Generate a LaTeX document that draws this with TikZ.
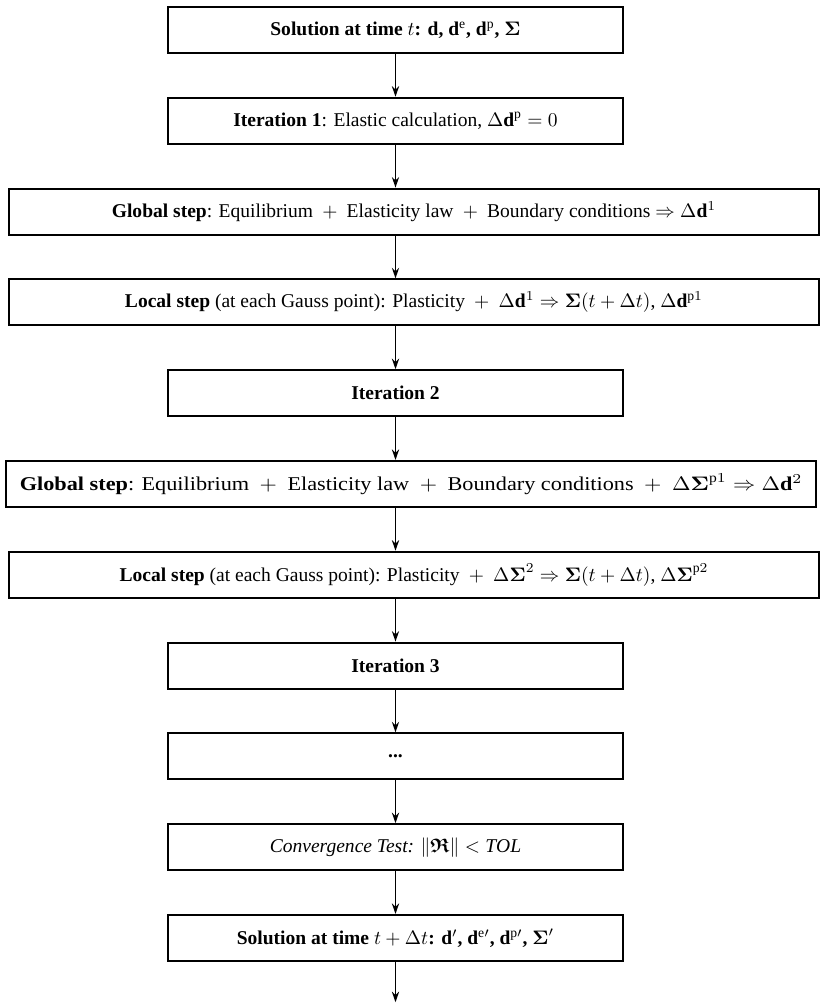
\documentclass[tikz,border=0pt]{standalone}
\usepackage{amsmath}
\usepackage{amssymb}
\usepackage{graphicx}
\usepackage{fontspec}
\setmainfont{Liberation Serif}
\usepackage{tikz}
\usetikzlibrary{arrows.meta}

\tikzset{
  box/.style={draw, line width=1pt, minimum height=0.83cm, inner sep=2pt},
  smallbox/.style={box, minimum width=8.19cm},
  widebox/.style={box, minimum width=14.58cm},
  flow/.style={-{Stealth[length=1.9mm,width=1.3mm]}, line width=0.8pt}
}

\begin{document}
\begin{tikzpicture}
\useasboundingbox (0,0) rectangle (14.778,-18.108);

\node[smallbox] (s0) at (7.119,-0.540) {\textbf{Solution at time $t$: $\mathbf{d}$, $\mathbf{d}^{\mathrm{e}}$, $\mathbf{d}^{\mathrm{p}}$, $\boldsymbol{\Sigma}$}};
\node[smallbox] (it1) at (7.119,-2.174) {\textbf{Iteration 1}: Elastic calculation, $\Delta\mathbf{d}^{\mathrm{p}}=0$};
\node[widebox] (g1) at (7.452,-3.809) {\textbf{Global step}: Equilibrium ${}+{}$ Elasticity law ${}+{}$ Boundary conditions $\Rightarrow \Delta\mathbf{d}^1$};
\node[widebox] (l1) at (7.452,-5.443) {\textbf{Local step} (at each Gauss point): Plasticity ${}+{}$ $\Delta\mathbf{d}^1 \Rightarrow \boldsymbol{\Sigma}(t+\Delta t)$, $\Delta\mathbf{d}^{\mathrm{p}1}$};
\node[smallbox] (it2) at (7.119,-7.078) {\textbf{Iteration 2}};
\node[widebox] (g2) at (7.40,-8.712) {\scalebox{1.14}[1]{\textbf{Global step}: Equilibrium ${}+{}$ Elasticity law ${}+{}$ Boundary conditions ${}+{}$ $\Delta\boldsymbol{\Sigma}^{\mathrm{p}1} \Rightarrow \Delta\mathbf{d}^2$}};
\node[widebox] (l2) at (7.452,-10.346) {\textbf{Local step} (at each Gauss point): Plasticity ${}+{}$ $\Delta\boldsymbol{\Sigma}^2 \Rightarrow \boldsymbol{\Sigma}(t+\Delta t)$, $\Delta\boldsymbol{\Sigma}^{\mathrm{p}2}$};
\node[smallbox] (it3) at (7.119,-11.981) {\textbf{Iteration 3}};
\node[smallbox] (dots) at (7.119,-13.615) {\textbf{...}};
\node[smallbox] (conv) at (7.119,-15.250) {\textit{Convergence Test:} $\left\|\boldsymbol{\mathfrak{R}}\right\| < \mathit{TOL}$};
\node[smallbox] (s1) at (7.119,-16.884) {\textbf{Solution at time $t+\Delta t$: $\mathbf{d}'$, $\mathbf{d}^{\mathrm{e}\prime}$, $\mathbf{d}^{\mathrm{p}\prime}$, $\boldsymbol{\Sigma}'$}};
\coordinate (end) at (7.119,-18.04);

\draw[flow] (s0) -- (it1);
\draw[flow] (it1) -- (it1 |- g1.north);
\draw[flow] (it1 |- g1.south) -- (it1 |- l1.north);
\draw[flow] (it1 |- l1.south) -- (it2);
\draw[flow] (it2) -- (it2 |- g2.north);
\draw[flow] (it2 |- g2.south) -- (it2 |- l2.north);
\draw[flow] (it2 |- l2.south) -- (it3);
\draw[flow] (it3) -- (dots);
\draw[flow] (dots) -- (conv);
\draw[flow] (conv) -- (s1);
\draw[flow] (s1) -- (end);
\end{tikzpicture}
\end{document}
